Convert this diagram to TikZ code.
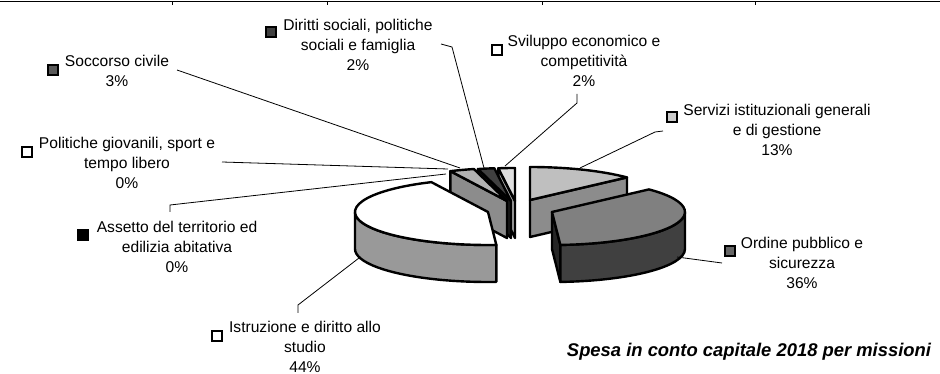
\documentclass[tikz,border=0pt]{standalone}
\usepackage{fontspec}
\setmainfont{Liberation Sans}
\usetikzlibrary{calc}

\begin{document}
\begin{tikzpicture}[x=0.75pt,y=0.75pt,
	lbl/.style={align=center,font=\fontsize{11.7}{15}\selectfont},
	key/.style={draw,line width=1.5pt,minimum size=7pt,inner sep=0pt},
	leader/.style={line width=0.6pt},
	slice/.style={draw,line width=1.8pt,line join=round}]
		
		\useasboundingbox (0,0) rectangle (940,-374);
		
		\def\rx{133}
		\def\ry{33}
		\def\hh{37}
		\def\topface[#1](#2)(#3:#4)% Syntax: [fill] (center) (start angle:end angle)
		{ \filldraw[slice,#1] (#2) -- ++({\rx*cos(#3)},{\ry*sin(#3)}) arc[start angle=#3,end angle=#4,x radius=\rx,y radius=\ry] -- cycle; }
		\def\sideface[#1](#2)(#3:#4)% Syntax: [fill] (center) (start angle:end angle)
		{ \filldraw[slice,#1] ($(#2)+({\rx*cos(#3)},{\ry*sin(#3)})$) arc[start angle=#3,end angle=#4,x radius=\rx,y radius=\ry] -- ++(0,-\hh) arc[start angle=#4,end angle=#3,x radius=\rx,y radius=\ry] -- cycle; }
		\def\cutface[#1](#2)(#3)% Syntax: [fill] (center) (angle)
		{ \filldraw[slice,#1] (#2) -- ++({\rx*cos(#3)},{\ry*sin(#3)}) -- ++(0,-\hh) -- ($(#2)+(0,-\hh)$) -- cycle; }
		
		\draw[line width=1pt] (0,-1.5) -- (940,-1.5);
		\draw[line width=0.6pt] (172,-1.5) -- (172,-5) (327,-1.5) -- (327,-5) (542,-1.5) -- (542,-5) (755,-1.5) -- (755,-5);
		
		\coordinate (serv) at (530,-200);
		\coordinate (svil) at (515,-201);
		\coordinate (dir) at (511,-201);
		\coordinate (socc) at (507,-201);
		\coordinate (istr) at (488,-212);
		\coordinate (ord) at (552,-212);
		
		% back slices first
		\cutface[fill=black!45](serv)(43.2);
		\topface[fill=black!25](serv)(43.2:90);
		\cutface[fill=black!35](svil)(97.2);
		\topface[fill=black!12](svil)(90:97.2);
		\cutface[fill=black!90](dir)(104.4);
		\topface[fill=black!75](dir)(97.2:104.4);
		\cutface[fill=black!45](socc)(115.2);
		\topface[fill=black!30](socc)(104.4:115.2);
		
		% front slices
		\sideface[fill=black!40](istr)(180:273.6);
		\topface[fill=white](istr)(115.2:273.6);
		\cutface[fill=black!85](ord)(-86.4);
		\sideface[fill=black!75](ord)(-86.4:0);
		\topface[fill=black!50](ord)(-86.4:43.2);
		
		% labels
		\node[lbl] (socc-l) at (117,-71) {Soccorso civile\\3\%};
		\node[key,fill=black!65] (socc-k) at (53,-70) {};
		\node[lbl] (dir-l) at (358,-45) {Diritti sociali, politiche\\sociali e famiglia\\2\%};
		\node[key,fill=black!75] (dir-k) at (271,-32) {};
		\node[lbl] (pol-l) at (127,-163) {Politiche giovanili, sport e\\tempo libero\\0\%};
		\node[key,fill=white] (pol-k) at (27,-152) {};
		\node[lbl] (ass-l) at (177,-247) {Assetto del territorio ed\\edilizia abitativa\\0\%};
		\node[key,fill=black] (ass-k) at (83,-235) {};
		\node[lbl] (istr-l) at (305,-347) {Istruzione e diritto allo\\studio\\44\%};
		\node[key,fill=white] (istr-k) at (217,-336) {};
		\node[lbl] (svil-l) at (584,-61) {Sviluppo economico e\\competitività\\2\%};
		\node[key,fill=white] (svil-k) at (497,-50) {};
		\node[lbl] (serv-l) at (777,-130) {Servizi istituzionali generali\\e di gestione\\13\%};
		\node[key,fill=black!20] (serv-k) at (672,-117) {};
		\node[lbl] (ord-l) at (802,-263) {Ordine pubblico e\\sicurezza\\36\%};
		\node[key,fill=black!60] (ord-k) at (730,-251) {};
		
		\node[font=\bfseries\itshape\fontsize{13.8}{16}\selectfont] (title) at (749,-352) {Spesa in conto capitale 2018 per missioni};
		
		% leader lines
		\coordinate (socc-a) at (177,-70);
		\coordinate (socc-b) at (460,-168);
		\coordinate (dir-a) at (441,-44);
		\coordinate (dir-b) at (484,-168);
		\coordinate (svil-a) at (577,-94);
		\coordinate (svil-b) at (505,-166);
		\coordinate (serv-a) at (663,-131);
		\coordinate (serv-b) at (580,-168);
		\coordinate (pol-a) at (222,-162);
		\coordinate (pol-b) at (448,-169);
		\coordinate (ass-a) at (170,-212);
		\coordinate (ass-b) at (446,-174);
		\coordinate (istr-a) at (298,-313);
		\coordinate (istr-b) at (359,-258);
		\coordinate (ord-a) at (722,-263);
		\coordinate (ord-b) at (677,-257);
		
		\draw[leader] (socc-a) -- (socc-b);
		\draw[leader] (dir-a) -- ++(11,-3) -- (dir-b);
		\draw[leader] (svil-a) -- ++(0,-9) -- (svil-b);
		\draw[leader] (serv-a) -- ++(-8,-1) -- (serv-b);
		\draw[leader] (pol-a) -- (pol-b);
		\draw[leader] (ass-a) -- ++(0,7) -- (ass-b);
		\draw[leader] (istr-a) -- ++(0,8) -- (istr-b);
		\draw[leader] (ord-a) -- (ord-b);
		\end{tikzpicture}
\end{document}
